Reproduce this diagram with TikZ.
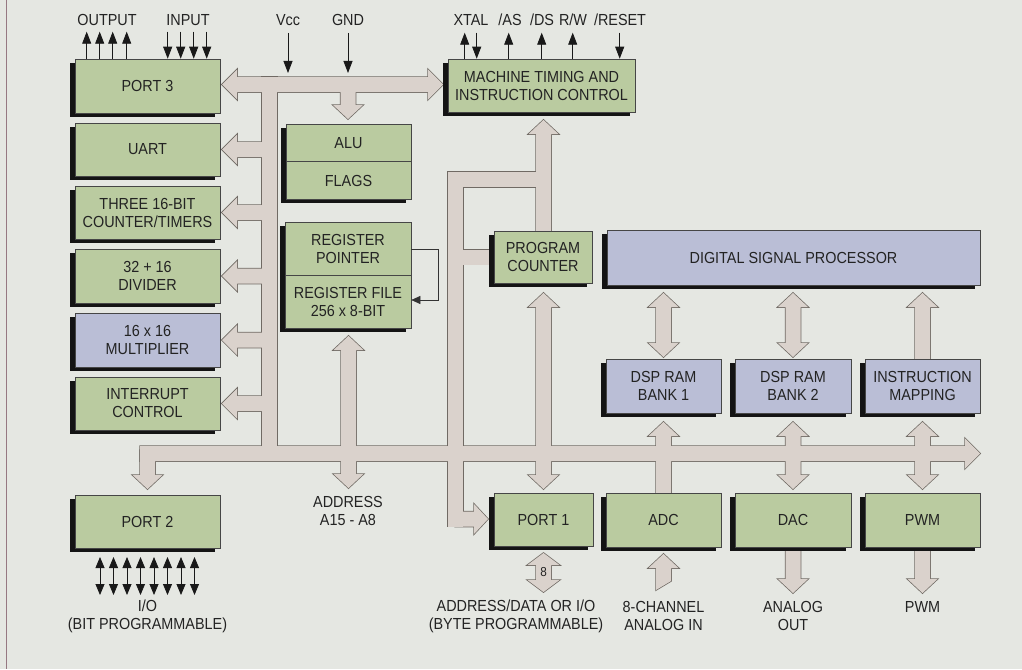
\documentclass[tikz,border=0pt]{standalone}
\usepackage{fontspec}
\setmainfont{Liberation Sans}[FakeStretch=0.9]
\usetikzlibrary{arrows.meta,shadows,calc}
\definecolor{bg}{RGB}{229,231,226}
\definecolor{gfill}{RGB}{186,203,160}
\definecolor{lfill}{RGB}{186,190,214}
\definecolor{busf}{RGB}{218,210,204}
\definecolor{busl}{RGB}{112,106,100}
\definecolor{txt}{RGB}{35,35,35}
\definecolor{boxl}{RGB}{70,70,70}
\definecolor{edge}{RGB}{150,120,130}

\newcommand\dblV[4]{\path[#1] (#2,#3) -- (#2+15,#3+14) -- (#2+7.5,#3+14) -- (#2+7.5,#4-14) -- (#2+15,#4-14) -- (#2,#4) -- (#2-15,#4-14) -- (#2-7.5,#4-14) -- (#2-7.5,#3+14) -- (#2-15,#3+14) -- cycle;}
\newcommand\upV[4]{\path[#1] (#2,#3) -- (#2+15,#3+14) -- (#2+7.5,#3+14) -- (#2+7.5,#4) -- (#2-7.5,#4) -- (#2-7.5,#3+14) -- (#2-15,#3+14) -- cycle;}
\newcommand\downV[4]{\path[#1] (#2-7.5,#3) -- (#2+7.5,#3) -- (#2+7.5,#4-14) -- (#2+15,#4-14) -- (#2,#4) -- (#2-15,#4-14) -- (#2-7.5,#4-14) -- cycle;}
\newcommand\leftH[4]{\path[#1] (#2,#3) -- (#2+15,#3-15) -- (#2+15,#3-7.5) -- (#4,#3-7.5) -- (#4,#3+7.5) -- (#2+15,#3+7.5) -- (#2+15,#3+15) -- cycle;}

\newcommand\allbus[1]{%
 \path[#1] (222,84.5) -- (237,69.5) -- (237,77) -- (428,77) -- (428,69.5) -- (443,84.5) -- (428,99.5) -- (428,92) -- (237,92) -- (237,99.5) -- cycle;
 \path[#1] (262,77) rectangle (277,461);
 \path[#1] (140,446) -- (965,446) -- (965,438.5) -- (980,453.5) -- (965,468.5) -- (965,461) -- (140,461) -- cycle;
 \leftH{#1}{222}{149.5}{270}
 \leftH{#1}{222}{212.5}{270}
 \leftH{#1}{222}{276}{270}
 \leftH{#1}{222}{340}{270}
 \leftH{#1}{222}{403.5}{270}
 \downV{#1}{147.5}{450}{489}
 \downV{#1}{348}{85}{119}
 \dblV{#1}{348.5}{336}{488}
 \path[#1] (448,172) rectangle (463,526.5);
 \path[#1] (448,172) rectangle (551,187);
 \path[#1] (455,249.5) rectangle (494,264.5);
 \path[#1] (455,511.5) -- (474,511.5) -- (474,504) -- (488,519) -- (474,534) -- (474,526.5) -- (455,526.5) -- cycle;
 \upV{#1}{543.5}{120}{231}
 \dblV{#1}{543.5}{293}{489}
 \upV{#1}{663.5}{422}{493}
 \dblV{#1}{793}{422}{489}
 \dblV{#1}{922.5}{422}{489}
 \dblV{#1}{663.5}{293}{357}
 \dblV{#1}{793}{293}{357}
 \upV{#1}{922.5}{293}{359}
 \downV{#1}{793}{547}{593}
 \downV{#1}{922.5}{547}{593}
 \path[#1] (663.5,554) -- (678.5,568) -- (671,568) -- (671,581) -- (656,590) -- (656,568) -- (648.5,568) -- cycle;
 \path[#1] (543.5,553) -- (559.5,565) -- (551,565) -- (551,580) -- (559.5,580) -- (543.5,592) -- (527.5,580) -- (536,580) -- (536,565) -- (527.5,565) -- cycle;
}

\begin{document}
\begin{tikzpicture}[x=1pt,y=-1pt,
  box/.style={draw=boxl, line width=0.6pt, text=txt, align=center,
    font=\fontsize{16}{18}\selectfont, inner sep=0pt,
    drop shadow={shadow xshift=-5pt, shadow yshift=-4pt, opacity=1, fill=black!92}},
  gbox/.style={box, fill=gfill},
  lbox/.style={box, fill=lfill},
  lab/.style={text=txt, align=center, inner sep=0pt, font=\fontsize{16}{18}\selectfont},
  sig/.style={line width=0.8pt, draw=black!90, -{Triangle[length=12pt,width=9pt]}},
  bi/.style={line width=0.8pt, draw=black!90, {Triangle[length=11pt,width=9pt]}-{Triangle[length=11pt,width=9pt]}},
  fb/.style={line width=0.6pt, draw=black!80, -{Triangle[length=9pt,width=8pt]}}
]
\useasboundingbox (0,0) rectangle (1022,669);
\fill[bg] (0,0) rectangle (1022,669);
\draw[edge, line width=0.9pt] (6,0) -- (6,669);

% ---- buses (two passes give a merged outline)
\allbus{draw=busl, line width=1.5pt, line join=miter}
\allbus{fill=busf}

% ---- left column
\node[gbox, minimum width=145pt, minimum height=54pt] (port3) at (147.5,86) {PORT 3};
\node[gbox, minimum width=145pt, minimum height=53pt] (uart) at (147.5,149.5) {UART};
\node[gbox, minimum width=145pt, minimum height=53pt] (timers) at (147.5,212.5) {THREE 16-BIT\\COUNTER/TIMERS};
\node[gbox, minimum width=145pt, minimum height=54pt] (divider) at (147.5,276) {32 + 16\\DIVIDER};
\node[lbox, minimum width=145pt, minimum height=54pt] (mult) at (147.5,340) {16 x 16\\MULTIPLIER};
\node[gbox, minimum width=145pt, minimum height=53pt] (intr) at (147.5,403.5) {INTERRUPT\\CONTROL};
\node[gbox, minimum width=145pt, minimum height=53pt] (port2) at (147.5,521.5) {PORT 2};

% ---- ALU / FLAGS
\node[gbox, minimum width=125pt, minimum height=75pt] (alub) at (348.5,161.5) {};
\draw[boxl, line width=0.6pt] (alub.west) -- (alub.east);
\node[lab] (alu) at (348.5,143) {ALU};
\node[lab] (flags) at (348.5,180.5) {FLAGS};

% ---- register block
\node[gbox, minimum width=126pt, minimum height=106pt] (regb) at (348,275) {};
\draw[boxl, line width=0.6pt] (regb.west) -- (regb.east);
\node[lab] (regp) at (348,248.5) {REGISTER\\POINTER};
\node[lab] (regf) at (348,301.5) {REGISTER FILE\\256 x 8-BIT};
\coordinate (fb1) at (438,249);
\coordinate (fb2) at (438,300);
\draw[fb] (regb.east |- fb1) -- (fb1) -- (fb2) -- (regb.east |- fb2);

% ---- control / PC
\node[gbox, minimum width=187pt, minimum height=53pt] (mtic) at (541.5,85.5) {MACHINE TIMING AND\\INSTRUCTION CONTROL};
\node[gbox, minimum width=98pt, minimum height=52pt] (pc) at (543,257) {PROGRAM\\COUNTER};

% ---- DSP
\node[lbox, minimum width=373pt, minimum height=55pt] (dsp) at (793.5,257.5) {DIGITAL SIGNAL PROCESSOR};
\node[lbox, minimum width=115pt, minimum height=54pt] (ram1) at (663.5,386) {DSP RAM\\BANK 1};
\node[lbox, minimum width=116pt, minimum height=54pt] (ram2) at (793,386) {DSP RAM\\BANK 2};
\node[lbox, minimum width=115pt, minimum height=54pt] (imap) at (922.5,386) {INSTRUCTION\\MAPPING};

% ---- bottom row
\node[gbox, minimum width=99pt, minimum height=53pt] (port1) at (543.5,519.5) {PORT 1};
\node[gbox, minimum width=115pt, minimum height=54pt] (adc) at (663.5,520) {ADC};
\node[gbox, minimum width=116pt, minimum height=54pt] (dac) at (793,520) {DAC};
\node[gbox, minimum width=115pt, minimum height=54pt] (pwm) at (922.5,520) {PWM};

% ---- top labels and signal arrows
\node[lab] (outl) at (107,20) {OUTPUT};
\node[lab] (inl) at (188,20) {INPUT};
\foreach \dx in {12,25,38,52} \draw[sig] ([xshift=\dx pt]port3.north west) -- ++(0,-27);
\foreach \dx in {93,106,119,132} \draw[sig] ([xshift=\dx pt, yshift=27pt]port3.north west) -- ([xshift=\dx pt]port3.north west);

\node[lab] (vcc) at (288,20) {Vcc};
\node[lab] (gnd) at (348,20) {GND};
\coordinate (vcct) at (288,33); \coordinate (vccb) at (288,73);
\coordinate (gndt) at (348,33); \coordinate (gndb) at (348,73);
\draw[sig] (vcct) -- (vccb);
\draw[sig] (gndt) -- (gndb);

\node[lab] (xtal) at (471,20) {XTAL};
\node[lab] (as) at (510,20) {/AS};
\node[lab] (ds) at (542,20) {/DS};
\node[lab] (rw) at (573,20) {R/W};
\node[lab] (reset) at (620,20) {/RESET};
\foreach \dx in {17,61,94,125} \draw[sig] ([xshift=\dx pt]mtic.north west) -- ++(0,-26);
\foreach \dx in {29,172} \draw[sig] ([xshift=\dx pt, yshift=26pt]mtic.north west) -- ([xshift=\dx pt]mtic.north west);

% ---- port 2 I/O
\foreach \i [evaluate=\i as \xx using 100+13.5*\i] in {0,...,7} \draw[bi] (\xx,557) -- (\xx,595);
\node[lab] (iol) at (147.5,616) {I/O\\(BIT PROGRAMMABLE)};

% ---- bottom labels
\node[lab] (addr) at (348,510.5) {ADDRESS\\A15 - A8};
\node[lab] (adl) at (516,616) {ADDRESS/DATA OR I/O\\(BYTE PROGRAMMABLE)};
\node[lab, font=\fontsize{13}{14}\selectfont] (eight) at (543.5,572.5) {8};
\node[lab] (ainl) at (663.5,616) {8-CHANNEL\\ANALOG IN};
\node[lab] (aoutl) at (793,616) {ANALOG\\OUT};
\node[lab] (pwml) at (922.5,607) {PWM};
\end{tikzpicture}
\end{document}
